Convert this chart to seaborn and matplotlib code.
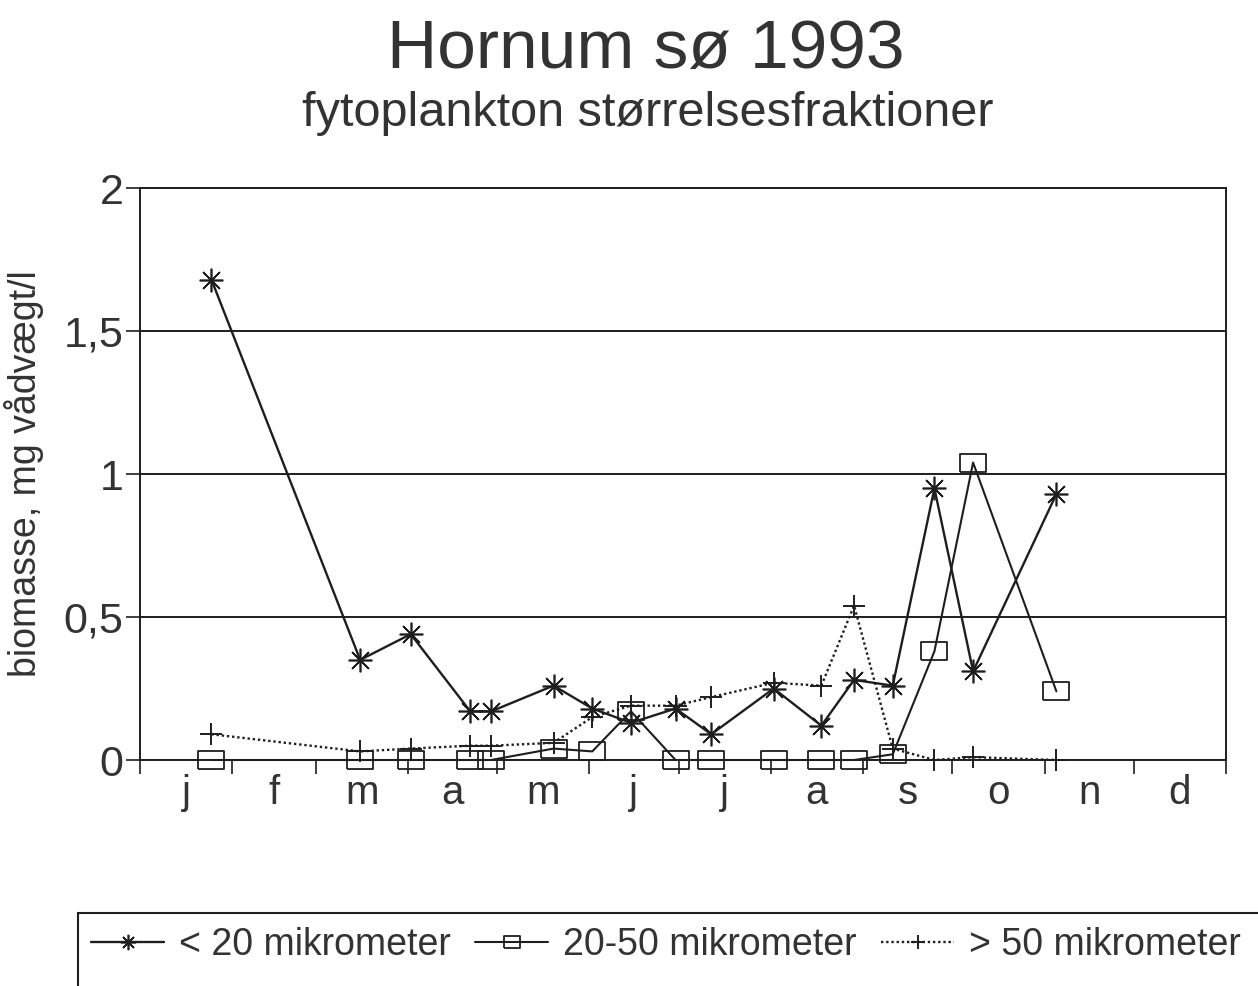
import numpy as np
import pandas as pd
import seaborn as sns
import matplotlib.pyplot as plt
from matplotlib.patches import Rectangle

# sampling dates, day of year 1993
doy = [24, 74, 91, 111, 118, 139, 152, 165, 180, 192, 213, 229, 240, 253, 267, 280, 308]

# biomass, mg vaadvaegt/l
lt20 = [1.68, 0.35, 0.44, 0.17, 0.17, 0.26, 0.18, 0.13, 0.18, 0.09, 0.25, 0.12, 0.28, 0.26, 0.95, 0.31, 0.93]
b2050 = [0.0, 0.0, 0.0, 0.0, 0.0, 0.04, 0.03, 0.17, 0.0, 0.0, 0.0, 0.0, 0.0, 0.02, 0.38, 1.04, 0.24]
gt50 = [0.09, 0.03, 0.04, 0.05, 0.05, 0.06, 0.15, 0.19, 0.19, 0.22, 0.27, 0.26, 0.54, 0.04, 0.0, 0.01, 0.0]

labels = ['< 20 mikrometer', '20-50 mikrometer', '> 50 mikrometer']
months = ['j', 'f', 'm', 'a', 'm', 'j', 'j', 'a', 's', 'o', 'n', 'd']
month_edges = [0, 31, 59, 90, 120, 151, 181, 212, 243, 273, 304, 334, 365]

sns.set_style('white')
plt.rcParams['font.family'] = ['Liberation Sans', 'DejaVu Sans']

ink = '#1e1e1e'
fig = plt.figure(figsize=(12.58, 9.86), dpi=100)
ax = fig.add_axes([140/1258, 1-760/986, (1226-140)/1258, (760-188)/986])

rect = [(-1.35, -1), (1.35, -1), (1.35, 1), (-1.35, 1), (-1.35, -1)]

sns.lineplot(x=doy, y=lt20, ax=ax, color=ink, lw=1.7, marker=(8, 2, 0), markersize=17,
             markeredgecolor=ink, markeredgewidth=1.2, errorbar=None, label=labels[0], clip_on=False)
sns.lineplot(x=doy, y=b2050, ax=ax, color=ink, lw=1.5, marker=rect, markersize=18,
             markeredgecolor=ink, markerfacecolor='none', markeredgewidth=1.3, errorbar=None,
             label=labels[1], clip_on=False)
sns.lineplot(x=doy, y=gt50, ax=ax, color=ink, lw=1.7, linestyle=(0, (1, 1.2)), marker='+', markersize=16,
             markeredgecolor=ink, markeredgewidth=1.4, errorbar=None, label=labels[2], clip_on=False)

if ax.get_legend() is not None:
    ax.get_legend().remove()

ax.set_xlim(0, 365)
ax.set_ylim(0, 2)

# y axis
ax.set_yticks([0, 0.5, 1, 1.5, 2])
ax.set_yticklabels(['0', '0,5', '1', '1,5', '2'])
ax.tick_params(axis='y', direction='out', length=10, width=1.2, color=ink, pad=2,
               labelsize=31, labelcolor='#333333', left=True)
ax.yaxis.grid(True, color=ink, lw=1.4)
ax.set_ylabel('biomasse, mg vådvægt/l', fontsize=27, color='#333333', labelpad=14)

# x axis: month boundaries as ticks, names in between
ax.set_xticks(month_edges)
ax.set_xticklabels([])
ax.tick_params(axis='x', which='major', direction='out', length=10, width=1.2, color=ink, bottom=True)
ax.set_xticks([(month_edges[i] + month_edges[i+1]) / 2 for i in range(12)], minor=True)
ax.set_xticklabels(months, minor=True)
ax.tick_params(axis='x', which='minor', length=0, pad=10, labelsize=29, labelcolor='#333333')
ax.set_xlabel('')

for s in ax.spines.values():
    s.set_visible(True)
    s.set_color(ink)
    s.set_linewidth(1.4)

fig.text(0.513, 1-50/986, 'Hornum sø 1993', ha='center', va='center', fontsize=50, color='#333333')
fig.text(0.515, 1-113/986, 'fytoplankton størrelsesfraktioner', ha='center', va='center',
         fontsize=35, color='#333333')

# legend box running off the page
fig.patches.append(Rectangle((78/1258, -0.1), 1.2, 0.1 + (986-913)/986, transform=fig.transFigure,
                             fill=False, edgecolor=ink, lw=1.5))
h, l = ax.get_legend_handles_labels()
fig.legend(h, l, loc='center left', bbox_to_anchor=(91/1258, 1-945/986), ncol=3, frameon=False,
           fontsize=27, handlelength=1.95, handletextpad=0.4, columnspacing=0.65, borderpad=0.0,
           borderaxespad=0.0, markerscale=0.65, labelcolor='#333333')

fig.savefig('out.png', dpi=100)
